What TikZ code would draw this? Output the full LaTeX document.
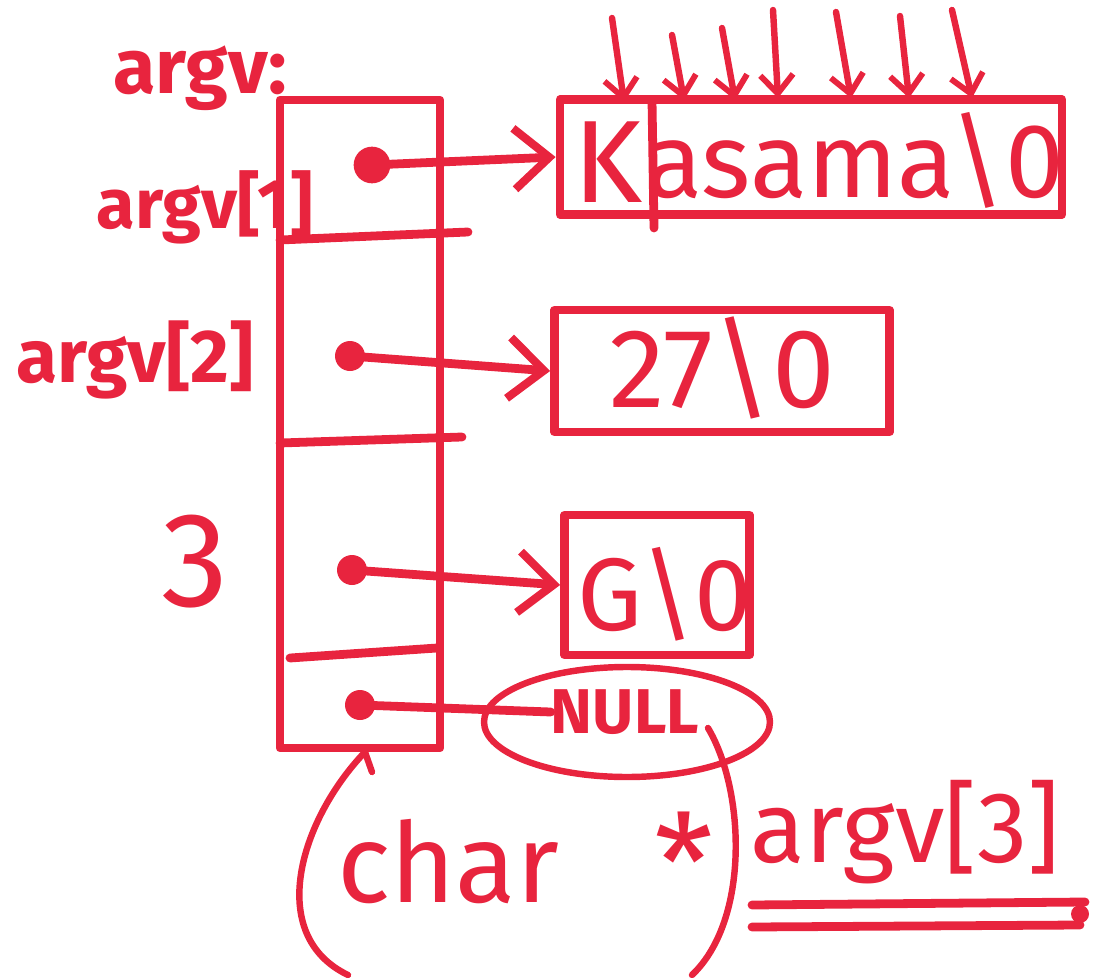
\documentclass[tikz,border=0pt]{standalone}
\usepackage{fontspec}
\setmainfont{Fira Sans}
\usetikzlibrary{arrows.meta,shapes.geometric}
\definecolor{pen}{RGB}{232,36,62}
\begin{document}
\begin{tikzpicture}[x=0.3mm,y=-0.3mm,line cap=round,line join=round,
  ink/.style={draw=pen,line width=7.5pt},
  thin ink/.style={draw=pen,line width=5.5pt},
  ptr/.style={ink,-{Straight Barb[length=30pt,width=52pt,line width=7pt]}},
  tick/.style={thin ink,-{Straight Barb[length=16pt,width=28pt,line width=5pt]}},
  dot/.style={circle,fill=pen,inner sep=0pt,minimum size=#1},
  strbox/.style={ink,rectangle,inner sep=0pt},
  txt/.style={text=pen,inner sep=0pt,font=\fontsize{#1}{#1}\selectfont},
  btxt/.style={text=pen,inner sep=0pt,font=\fontsize{#1}{#1}\selectfont\bfseries},
  nullring/.style={ellipse,thin ink,inner sep=0pt}]
\useasboundingbox (0,0) rectangle (1097,978);

% labels on the left
\node[btxt=66pt] (lab0) at (200,78) {argv:};
\node[btxt=60pt] (lab1) at (205,207) {argv[1]};
\node[btxt=64pt] (lab2) at (135,360) {argv[2]};
\node[txt=115pt] (lab3) at (195,562) {3};

% the argv array
\draw[ink] (280,100) rectangle (440,748);
\draw[ink] (280,240) -- (468,232);
\draw[ink] (280,443) -- (462,437);
\draw[ink] (290,658) -- (437,648);

\node[dot=11mm] (d1) at (372,165) {};
\node[dot=9mm] (d2) at (350,356) {};
\node[dot=9mm] (d3) at (352,570) {};
\node[dot=9mm] (d4) at (360,705) {};

% string boxes
\node[strbox,minimum width=150.6mm,minimum height=34.5mm] (kas) at (811,157) {};
\draw[ink] (652,100) -- (654,228);
\node[txt=100pt] (kK) at (608,162) {K};
\node[txt=90pt] (kRest) at (855,160) {asama\textbackslash 0};

\node[strbox,minimum width=100.5mm,minimum height=36.6mm] (b27) at (722,371) {};
\node[txt=96pt] (t27) at (722,368) {27\textbackslash 0};

\node[strbox,minimum width=55.5mm,minimum height=42mm] (bG) at (657,585) {};
\node[txt=88pt] (tG) at (665,594) {G\textbackslash 0};

% NULL
\node[nullring,minimum width=85.8mm,minimum height=33mm] (nullE) at (627,722) {};
\node[btxt=54pt] (tNull) at (625,712) {NULL};

% pointers
\draw[ptr] (d1.center) -- (kas.west);
\draw[ptr] (d2.center) -- (b27.west);
\draw[ptr] (d3.center) -- (bG.west);
\draw[ink] (d4.center) -- (tNull.west);

% arrows onto the characters
\coordinate (u1) at (612,18);  \coordinate (v1) at (624,102);
\coordinate (u2) at (672,35);  \coordinate (v2) at (684,100);
\coordinate (u3) at (722,28);  \coordinate (v3) at (735,100);
\coordinate (u4) at (773,10);  \coordinate (v4) at (778,98);
\coordinate (u5) at (836,12);  \coordinate (v5) at (851,98);
\coordinate (u6) at (900,16);  \coordinate (v6) at (909,98);
\coordinate (u7) at (952,10);  \coordinate (v7) at (972,98);
\foreach \i in {1,...,7} {\draw[tick] (u\i) -- (v\i);}

% cast expression
\node[txt=95pt] (tChar) at (448,862) {char};
\node[txt=115pt] (tStar) at (684,862) {*};
\node[txt=86pt] (tArgv) at (905,832) {argv[3]};
\coordinate (lpTop) at (365,752);
\coordinate (lpBot) at (348,975);
\draw[thin ink] (lpTop) .. controls (300,820) and (265,935) .. (lpBot);
\draw[thin ink] (lpTop) -- (372,772);
\coordinate (rpTop) at (708,728);
\coordinate (rpBot) at (692,975);
\draw[thin ink] (rpTop) .. controls (745,790) and (750,920) .. (rpBot);

% double underline
\coordinate (ul1a) at (752,905); \coordinate (ul1b) at (1085,902);
\coordinate (ul2a) at (752,927); \coordinate (ul2b) at (1080,925);
\draw[ink] (ul1a) -- (ul1b);
\draw[ink] (ul2a) -- (ul2b);
\fill[pen] (1080,914) circle (9);
\end{tikzpicture}
\end{document}
